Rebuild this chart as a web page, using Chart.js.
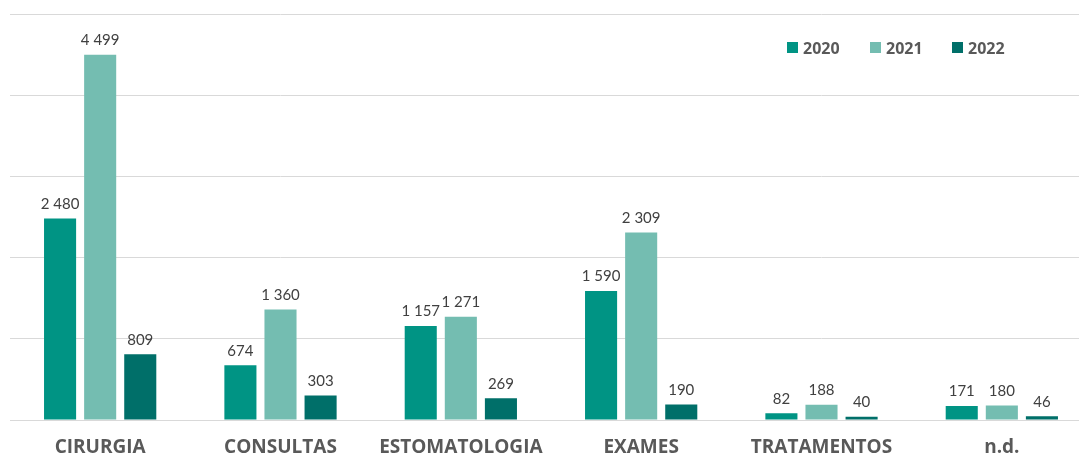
<!DOCTYPE html>
<html>
<head>
<meta charset="utf-8">
<script src="https://cdn.jsdelivr.net/npm/chart.js@4"></script>
<style>
  html, body { margin: 0; padding: 0; background: #fff; overflow: hidden; }
  #wrap { width: 1079px; height: 459px; overflow: hidden; }
</style>
</head>
<body>
<div id="wrap"><canvas id="chart" width="1092" height="459"></canvas></div>
<script>
// categorias e valores
const categories = ["CIRURGIA", "CONSULTAS", "ESTOMATOLOGIA", "EXAMES", "TRATAMENTOS", "n.d."];
const years = ["2020", "2021", "2022"];
const values2020 = [2480, 674, 1157, 1590, 82, 171];
const values2021 = [4499, 1360, 1271, 2309, 188, 180];
const values2022 = [809, 303, 269, 190, 40, 46];
const colors = ["#009484", "#74bdb1", "#006f69"];

const boldFont = "'Open Sans', sans-serif";
const fmt = v => String(v).replace(/\B(?=(\d{3})+(?!\d))/g, " ");

// rotulos por cima das barras
const barLabels = {
    id: "barLabels",
    afterDatasetsDraw(chart) {
        const ctx = chart.ctx;
        ctx.save();
        ctx.font = "15px Lato, 'Open Sans', sans-serif";
        ctx.fillStyle = "#404040";
        ctx.textAlign = "center";
        ctx.textBaseline = "bottom";
        chart.data.datasets.forEach((ds, i) => {
            chart.getDatasetMeta(i).data.forEach((bar, j) => {
                ctx.fillText(fmt(ds.data[j]), bar.x, bar.y - 7);
            });
        });
        ctx.restore();
    }
};

// legenda no canto superior direito
const cornerLegend = {
    id: "cornerLegend",
    afterDraw(chart) {
        const ctx = chart.ctx;
        ctx.save();
        ctx.font = "bold 16px " + boldFont;
        ctx.textBaseline = "middle";
        const xs = [787, 870, 952];
        chart.data.datasets.forEach((ds, i) => {
            ctx.fillStyle = ds.backgroundColor;
            ctx.fillRect(xs[i], 42, 11, 11);
            ctx.fillStyle = "#595959";
            ctx.fillText(ds.label, xs[i] + 16, 49);
        });
        ctx.restore();
    }
};

const series = [values2020, values2021, values2022];

new Chart(document.getElementById("chart"), {
    type: "bar",
    data: {
        labels: categories,
        datasets: years.map((y, i) => ({
            label: y,
            data: series[i],
            backgroundColor: colors[i],
            barPercentage: 0.8,
            categoryPercentage: 0.667
        }))
    },
    options: {
        responsive: false,
        animation: false,
        layout: { padding: { left: 10, top: 14, right: 0, bottom: 0 } },
        plugins: {
            legend: { display: false },
            tooltip: { enabled: false }
        },
        scales: {
            y: {
                min: 0,
                max: 5000,
                ticks: { display: false, stepSize: 1000 },
                grid: { color: "#d9d9d9", lineWidth: 1, drawTicks: false },
                border: { display: false }
            },
            x: {
                grid: { display: false, drawTicks: false },
                border: { color: "#d9d9d9", width: 1 },
                ticks: {
                    color: "#595959",
                    font: { family: boldFont, size: 19, weight: "bold" },
                    padding: 16
                },
                afterFit(scale) { scale.height = 39; }
            }
        }
    },
    plugins: [barLabels, cornerLegend]
});
</script>
</body>
</html>
